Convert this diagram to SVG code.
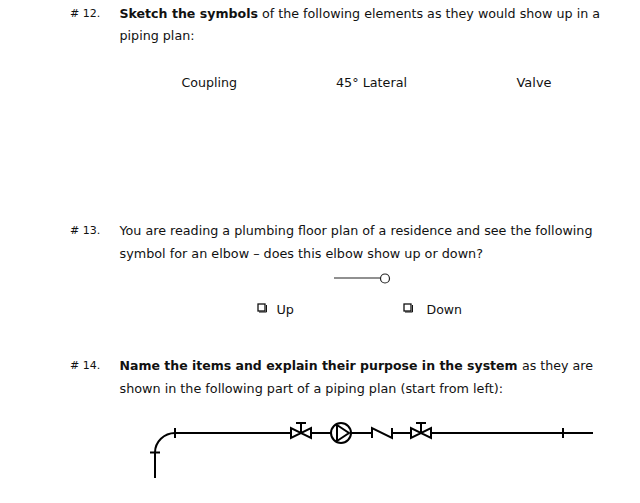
<svg xmlns="http://www.w3.org/2000/svg" width="640" height="503" viewBox="0 0 640 503">
<style>
text{font-family:"DejaVu Sans",Verdana,sans-serif;font-size:13px;fill:#111}
.n{font-size:11px}
.b{font-weight:bold}
.p{fill:none;stroke:#000;stroke-width:2}
.t{fill:none;stroke:#222;stroke-width:1.200}
</style>
<rect width="640" height="503" fill="#fff"/>
<g id="q12">
<text class="n" x="70" y="17">#&#160;12.</text>
<text class="b" x="119.500" y="18" textLength="138.500" lengthAdjust="spacingAndGlyphs">Sketch the symbols</text>
<text x="262" y="18" textLength="338" lengthAdjust="spacingAndGlyphs">of the following elements as they would show up in a</text>
<text x="119.500" y="40" textLength="75" lengthAdjust="spacingAndGlyphs">piping plan:</text>
<text x="181.500" y="87" textLength="55.500" lengthAdjust="spacingAndGlyphs">Coupling</text>
<text x="336" y="87" textLength="71" lengthAdjust="spacingAndGlyphs">45° Lateral</text>
<text x="516.500" y="87" textLength="35" lengthAdjust="spacingAndGlyphs">Valve</text>
</g>
<g id="q13">
<text class="n" x="70" y="234">#&#160;13.</text>
<text x="119.500" y="235" textLength="473" lengthAdjust="spacingAndGlyphs">You are reading a plumbing floor plan of a residence and see the following</text>
<text x="119.500" y="258" textLength="363.500" lengthAdjust="spacingAndGlyphs">symbol for an elbow – does this elbow show up or down?</text>
<line class="t" x1="334" y1="278" x2="380" y2="278"/>
<circle class="t" cx="385" cy="278.500" r="4.500"/>
<g id="check-up"><rect x="258" y="304" width="7" height="7" fill="#fff" stroke="#111" stroke-width="1.300"/><path d="M259 312h7.500v-7" fill="none" stroke="#111" stroke-width="1"/></g>
<text x="276.500" y="314" textLength="17.500" lengthAdjust="spacingAndGlyphs">Up</text>
<g id="check-down"><rect x="404" y="304" width="7" height="7" fill="#fff" stroke="#111" stroke-width="1.300"/><path d="M405 312h7.500v-7" fill="none" stroke="#111" stroke-width="1"/></g>
<text x="426.500" y="314" textLength="35.500" lengthAdjust="spacingAndGlyphs">Down</text>
</g>
<g id="q14">
<text class="n" x="70" y="369">#&#160;14.</text>
<text class="b" x="119.500" y="370" style="font-size:12.500px">Name the items and explain their purpose in the system</text>
<text x="522" y="370" textLength="71" lengthAdjust="spacingAndGlyphs">as they are</text>
<text x="119.500" y="393" textLength="383.500" lengthAdjust="spacingAndGlyphs">shown in the following part of a piping plan (start from left):</text>
</g>
<g id="connectors">
<path class="p" d="M155 478V452.500C155 442 164 433 175 433H291M311 433H331M351 433H372M392 433H411M431 433H593"/>
<path class="p" d="M150 452.500H160M175 428V438M563 428V438"/>
<path class="p" d="M372 438V428L392 438V428"/>
</g>
<g id="valve-1"><path class="p" d="M291 428V438L311 428V438Z"/><path class="p" d="M301 433V423M296 423H306"/></g>
<g id="pump"><circle class="p" cx="341" cy="433" r="10"/><path class="p" d="M337 425V441L349 433Z"/></g>
<g id="valve-2"><path class="p" d="M411 428V438L431 428V438Z"/><path class="p" d="M421 433V423M416 423H426"/></g>
</svg>
